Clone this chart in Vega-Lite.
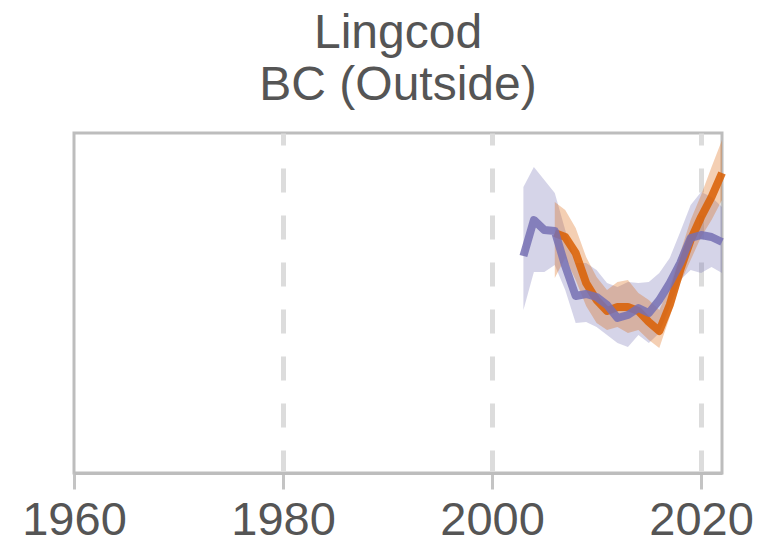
{
  "$schema": "https://vega.github.io/schema/vega-lite/v6.json",
  "autosize": "none",
  "width": 648,
  "height": 340,
  "padding": {"left": 74, "top": 133, "right": 46, "bottom": 76},
  "background": "white",
  "config": {
    "font": "Liberation Sans",
    "view": {"stroke": "#bdbdbd", "strokeWidth": 3},
    "axis": {"labelFont": "Liberation Sans"}
  },
  "title": {
    "text": ["Lingcod", "BC (Outside)"],
    "font": "Liberation Sans",
    "fontSize": 48,
    "fontWeight": "normal",
    "color": "#555555",
    "lineHeight": 52,
    "anchor": "middle",
    "offset": 23
  },
  "data": {
    "values": [
      {"year": 2003, "series": "B", "mean": 217, "lo": 163, "hi": 286},
      {"year": 2004, "series": "B", "mean": 253, "lo": 201, "hi": 306},
      {"year": 2005, "series": "B", "mean": 243, "lo": 201, "hi": 293},
      {"year": 2006, "series": "B", "mean": 242, "lo": 208, "hi": 280},
      {"year": 2007, "series": "B", "mean": 207, "lo": 183, "hi": 243},
      {"year": 2008, "series": "B", "mean": 177, "lo": 150, "hi": 210},
      {"year": 2009, "series": "B", "mean": 179, "lo": 151, "hi": 210},
      {"year": 2010, "series": "B", "mean": 176, "lo": 146, "hi": 203},
      {"year": 2011, "series": "B", "mean": 168, "lo": 138, "hi": 190},
      {"year": 2012, "series": "B", "mean": 155, "lo": 130, "hi": 186},
      {"year": 2013, "series": "B", "mean": 158, "lo": 126, "hi": 191},
      {"year": 2014, "series": "B", "mean": 165, "lo": 138, "hi": 190},
      {"year": 2015, "series": "B", "mean": 160, "lo": 130, "hi": 191},
      {"year": 2016, "series": "B", "mean": 173, "lo": 140, "hi": 200},
      {"year": 2017, "series": "B", "mean": 190, "lo": 166, "hi": 215},
      {"year": 2018, "series": "B", "mean": 210, "lo": 193, "hi": 241},
      {"year": 2019, "series": "B", "mean": 235, "lo": 203, "hi": 268},
      {"year": 2020, "series": "B", "mean": 238, "lo": 200, "hi": 281},
      {"year": 2021, "series": "B", "mean": 236, "lo": 206, "hi": 276},
      {"year": 2022, "series": "B", "mean": 231, "lo": 200, "hi": 266},
      {"year": 2006, "series": "A", "mean": 240, "lo": 195, "hi": 271},
      {"year": 2007, "series": "A", "mean": 236, "lo": 215, "hi": 263},
      {"year": 2008, "series": "A", "mean": 220, "lo": 193, "hi": 245},
      {"year": 2009, "series": "A", "mean": 190, "lo": 167, "hi": 216},
      {"year": 2010, "series": "A", "mean": 173, "lo": 150, "hi": 196},
      {"year": 2011, "series": "A", "mean": 162, "lo": 143, "hi": 183},
      {"year": 2012, "series": "A", "mean": 166, "lo": 146, "hi": 191},
      {"year": 2013, "series": "A", "mean": 166, "lo": 140, "hi": 193},
      {"year": 2014, "series": "A", "mean": 162, "lo": 143, "hi": 180},
      {"year": 2015, "series": "A", "mean": 151, "lo": 133, "hi": 173},
      {"year": 2016, "series": "A", "mean": 142, "lo": 125, "hi": 163},
      {"year": 2017, "series": "A", "mean": 168, "lo": 156, "hi": 186},
      {"year": 2018, "series": "A", "mean": 203, "lo": 190, "hi": 220},
      {"year": 2019, "series": "A", "mean": 233, "lo": 213, "hi": 253},
      {"year": 2020, "series": "A", "mean": 256, "lo": 236, "hi": 278},
      {"year": 2021, "series": "A", "mean": 276, "lo": 253, "hi": 306},
      {"year": 2022, "series": "A", "mean": 300, "lo": 273, "hi": 333}
    ]
  },
  "encoding": {
    "x": {
      "field": "year",
      "type": "quantitative",
      "scale": {"domain": [1960, 2022], "nice": false, "zero": false},
      "axis": {
        "title": null,
        "values": [1960, 1980, 2000, 2020],
        "format": "d",
        "labelFontSize": 47,
        "labelColor": "#555555",
        "labelPadding": 8,
        "labelFlush": false,
        "tickSize": 16,
        "tickWidth": 3,
        "tickColor": "#c4c4c4",
        "domainColor": "#bdbdbd",
        "domainWidth": 3,
        "grid": true,
        "gridColor": "#dcdcdc",
        "gridOpacity": {"condition": {"test": "datum.value === 1960", "value": 0}, "value": 1},
        "gridWidth": 5,
        "gridDash": [24, 23],
        "gridDashOffset": 12
      }
    },
    "color": {
      "field": "series",
      "type": "nominal",
      "scale": {"domain": ["A", "B"], "range": ["#d95f02", "#7570b3"]},
      "legend": null
    }
  },
  "layer": [
    {
      "transform": [{"filter": "datum.series === 'B'"}],
      "mark": {"type": "area", "opacity": 0.3},
      "encoding": {
        "y": {"field": "lo", "type": "quantitative", "scale": {"domain": [0, 340], "nice": false}, "axis": null},
        "y2": {"field": "hi"}
      }
    },
    {
      "transform": [{"filter": "datum.series === 'A'"}],
      "mark": {"type": "area", "opacity": 0.3},
      "encoding": {
        "y": {"field": "lo", "type": "quantitative", "scale": {"domain": [0, 340], "nice": false}, "axis": null},
        "y2": {"field": "hi"}
      }
    },
    {
      "transform": [{"filter": "datum.series === 'A'"}],
      "mark": {"type": "line", "strokeWidth": 8, "opacity": 0.85, "strokeJoin": "round"},
      "encoding": {
        "y": {"field": "mean", "type": "quantitative", "scale": {"domain": [0, 340], "nice": false}, "axis": null}
      }
    },
    {
      "transform": [{"filter": "datum.series === 'B'"}],
      "mark": {"type": "line", "strokeWidth": 8, "opacity": 0.85, "strokeJoin": "round"},
      "encoding": {
        "y": {"field": "mean", "type": "quantitative", "scale": {"domain": [0, 340], "nice": false}, "axis": null}
      }
    }
  ]
}
